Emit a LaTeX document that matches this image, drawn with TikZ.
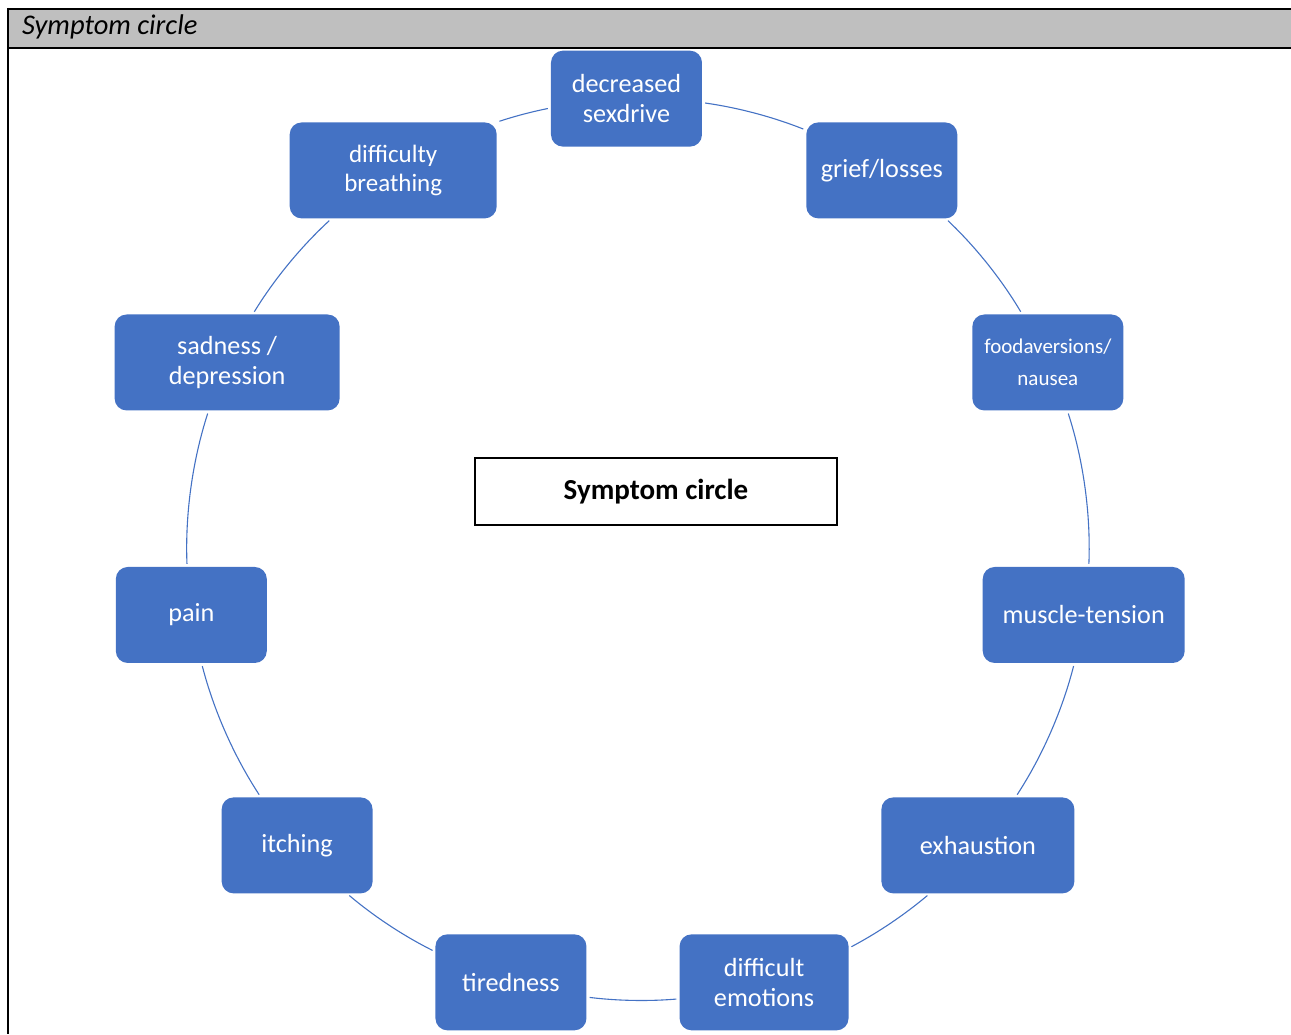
\documentclass[tikz,border=0pt]{standalone}
\usepackage{fontspec}
\setmainfont{Carlito}
\definecolor{boxblue}{HTML}{4472C4}
\definecolor{hdrgray}{HTML}{BFBFBF}
\begin{document}
\begin{tikzpicture}[x=1pt,y=1pt,
  sym/.style={fill=boxblue,text=white,rounded corners=12pt,minimum height=96pt,
    minimum width=151pt,inner sep=2pt,align=center,
    font=\fontsize{26.2}{30}\selectfont},
  ring/.style={draw=boxblue,line width=1.1pt,shorten >=3pt,shorten <=3pt,looseness=0.855},
  rule/.style={line width=2pt,black}]
\useasboundingbox (0,0) rectangle (1291,1034);
% header
\fill[hdrgray] (8,1025) rectangle (1291,986);
\draw[rule] (8,1025) -- (1291,1025);
\draw[rule] (8,986) -- (1291,986);
\draw[rule] (8,1026) -- (8,0);
\node[anchor=base west,inner sep=0,font=\itshape\fontsize{28.5}{32}\selectfont] (hdr) at (22,999) {Symptom circle};
% centre
\coordinate (C) at (637.5,484.5);
\node[draw=black,line width=1.6pt,minimum width=362pt,minimum height=67pt,
  font=\bfseries\fontsize{29}{33}\selectfont] (title) at (656,542.5) {Symptom circle};
% ring nodes
\node[sym] (n1) at ([shift={(91.4:451)}]C) {decreased\\sexdrive};
\node[sym] (n2) at ([shift={(57.2:451)}]C) {grief/losses};
\node[sym,font=\fontsize{21}{32}\selectfont] (n3) at ([shift={(24.5:451)}]C) {foodaversions/\\nausea};
\node[sym,minimum width=202pt] (n4) at ([shift={(-8.35:451)}]C) {muscle-tension};
\node[sym,minimum width=193pt] (n5) at ([shift={(-41:451)}]C) {exhaustion};
\node[sym,minimum width=169pt] (n6) at ([shift={(-73.7:451)}]C) {difficult\\emotions};
\node[sym] (n7) at ([shift={(-106.3:451)}]C) {tiredness};
\node[sym] (n8) at ([shift={(-139:451)}]C) {itching};
\node[sym] (n9) at ([shift={(-171.65:451)}]C) {pain};
\node[sym,minimum width=225pt] (n10) at ([shift={(155.5:451)}]C) {sadness /\\depression};
\node[sym,minimum width=207pt,font=\fontsize{25}{28.5}\selectfont] (n11) at ([shift={(122.8:451)}]C) {difficulty\\breathing};
% ring connectors (arcs of the circle between the boxes)
\draw[ring] (n1.-3.4)    to[bend left=6.88]  (n2.152.6);
\draw[ring] (n2.-37.8)   to[bend left=7.92]  (n3.118);
\draw[ring] (n3.-68.8)   to[bend left=10.08] (n4.84.6);
\draw[ring] (n4.-101.4)  to[bend left=9.38]  (n5.52.8);
\draw[ring] (n5.-135.4)  to[bend left=6.2]   (n6.22.15);
\draw[ring] (n6.-169.2)  to[bend left=5.93]  (n7.-11.4);
\draw[ring] (n7.158.5)   to[bend left=6.85]  (n8.-44.6);
\draw[ring] (n8.127.2)   to[bend left=9.38]  (n9.-78.6);
\draw[ring] (n9.95.4)    to[bend left=10.08] (n10.-111.2);
\draw[ring] (n10.62)     to[bend left=7.92]  (n11.-142.2);
\draw[ring] (n11.25)     to[bend left=3.57]  (n1.-173.7);
\end{tikzpicture}
\end{document}
